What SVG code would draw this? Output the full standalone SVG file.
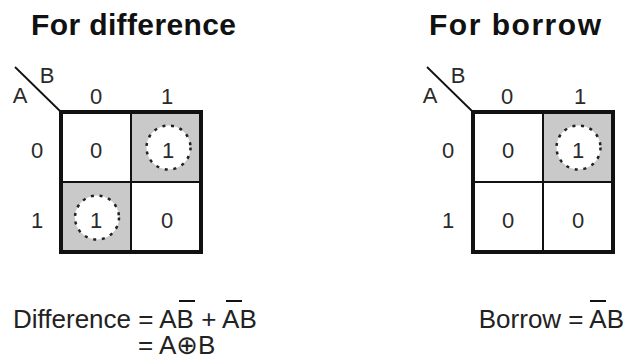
<svg xmlns="http://www.w3.org/2000/svg" width="628" height="359" viewBox="0 0 628 359">
  <style>
    .title { font-family: "Liberation Sans", Arial, sans-serif; font-weight: bold; font-size: 30px; fill: #111; }
    .lbl { font-family: "Liberation Sans", Arial, sans-serif; font-size: 22px; fill: #2a2a2a; text-anchor: middle; }
    .eq { font-family: "Liberation Sans", "DejaVu Sans", Arial, sans-serif; font-size: 26px; fill: #222; }
    .cell { fill: #fff; stroke: #111; stroke-width: 2; }
    .hit { fill: #c9c9c9; stroke: #111; stroke-width: 2; }
    .frame { fill: none; stroke: #111; stroke-width: 4; }
    .diag { stroke: #111; stroke-width: 1.8; }
    .group { fill: #fff; stroke: #222; stroke-width: 2.5; stroke-dasharray: 3 5.8; }
    .bar { stroke: #111; stroke-width: 2; }
  </style>

  <!-- Difference map: A rows, B columns -->
  <g id="kmap-difference">
    <text class="title" x="31" y="35" textLength="205" lengthAdjust="spacing">For difference</text>
    <line class="diag" x1="15" y1="67" x2="61" y2="112"/>
    <text class="lbl" x="47" y="83">B</text>
    <text class="lbl" x="20" y="103">A</text>
    <text class="lbl" x="96" y="104">0</text>
    <text class="lbl" x="167" y="104">1</text>
    <text class="lbl" x="37" y="158">0</text>
    <text class="lbl" x="37" y="228">1</text>
    <rect class="cell" x="61" y="112" width="70" height="70"/>
    <rect class="hit" x="131" y="112" width="70" height="70"/>
    <rect class="hit" x="61" y="182" width="70" height="70"/>
    <rect class="cell" x="131" y="182" width="70" height="70"/>
    <rect class="frame" x="61" y="112" width="140" height="140"/>
    <circle class="group" cx="168.5" cy="147.5" r="22"/>
    <circle class="group" cx="97" cy="217.5" r="22"/>
    <text class="lbl" x="96" y="158">0</text>
    <text class="lbl" x="168" y="158">1</text>
    <text class="lbl" x="96" y="228">1</text>
    <text class="lbl" x="167" y="228">0</text>
  </g>

  <!-- Borrow map -->
  <g id="kmap-borrow">
    <text class="title" x="429" y="35" textLength="172" lengthAdjust="spacing">For borrow</text>
    <line class="diag" x1="427" y1="67" x2="473" y2="112"/>
    <text class="lbl" x="458" y="83">B</text>
    <text class="lbl" x="430" y="103">A</text>
    <text class="lbl" x="507" y="104">0</text>
    <text class="lbl" x="580" y="104">1</text>
    <text class="lbl" x="448" y="158">0</text>
    <text class="lbl" x="448" y="228">1</text>
    <rect class="cell" x="473" y="112" width="70" height="70"/>
    <rect class="hit" x="543" y="112" width="70" height="70"/>
    <rect class="cell" x="473" y="182" width="70" height="70"/>
    <rect class="cell" x="543" y="182" width="70" height="70"/>
    <rect class="frame" x="473" y="112" width="140" height="140"/>
    <circle class="group" cx="578.5" cy="147.5" r="22"/>
    <text class="lbl" x="508" y="158">0</text>
    <text class="lbl" x="578" y="158">1</text>
    <text class="lbl" x="508" y="228">0</text>
    <text class="lbl" x="578" y="228">0</text>
  </g>

  <!-- Simplified expressions -->
  <g id="expr-difference">
    <text class="eq" x="13" y="328">Difference = AB + AB</text>
    <line class="bar" x1="179" y1="301" x2="195" y2="301"/>
    <line class="bar" x1="226" y1="301" x2="242" y2="301"/>
    <text class="eq" x="138" y="354">= A⊕B</text>
  </g>
  <g id="expr-borrow">
    <text class="eq" x="624" y="328" text-anchor="end">Borrow = AB</text>
    <line class="bar" x1="590" y1="301" x2="606" y2="301"/>
  </g>
</svg>
